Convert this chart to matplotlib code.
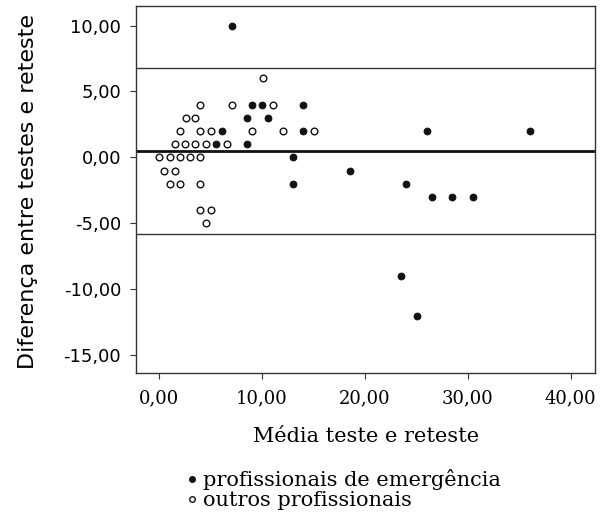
import numpy as np
import matplotlib.pyplot as plt
from matplotlib.lines import Line2D

# profissionais de emergencia (filled)
emerg_x = [7.1, 9.05, 10.05, 14.05, 8.6, 10.6, 6.1, 14.05, 5.6, 8.6,
           13.05, 18.6, 13.05, 26.05, 36.0, 24.05, 26.5, 28.5, 30.5,
           23.5, 25.1]
emerg_y = [10, 4, 4, 4, 3, 3, 2, 2, 1, 1,
           0, -1, -2, 2, 2, -2, -3, -3, -3,
           -9, -12]

# outros profissionais (open)
outros_x = [10.1, 4.05, 7.1, 11.1, 2.6, 3.55, 2.05, 4.05, 5.05, 9.1,
            12.1, 15.1, 1.55, 2.55, 3.55, 4.6, 6.6, 0.05, 1.05, 2.05,
            3.05, 4.05, 0.55, 1.6, 1.05, 2.05, 4.05, 4.05, 5.05, 4.6]
outros_y = [6, 4, 4, 4, 3, 3, 2, 2, 2, 2,
            2, 2, 1, 1, 1, 1, 1, 0, 0, 0,
            0, 0, -1, -1, -2, -2, -2, -4, -4, -5]

mean_diff = 0.49
upper_lim = 6.77
lower_lim = -5.81

xticks = [0, 10, 20, 30, 40]
yticks = [10, 5, 0, -5, -10, -15]


def fmt(v):
    return f"{v:.2f}".replace(".", ",")


fig = plt.figure(figsize=(6.13, 5.24), dpi=100)
ax = fig.add_axes([0.2225, 0.288, 0.7485, 0.7015])

ax.axhline(upper_lim, color="#333333", lw=1.0)
ax.axhline(lower_lim, color="#333333", lw=1.0)
ax.axhline(mean_diff, color="#111111", lw=2.0)

ax.plot(emerg_x, emerg_y, "o", ms=4.8, mfc="#111111", mec="#111111",
        mew=0.8, ls="none")
ax.plot(outros_x, outros_y, "o", ms=4.8, mfc="white", mec="#111111",
        mew=1.0, ls="none")

ax.set_xlim(-2.17, 42.37)
ax.set_ylim(-16.36, 11.52)
ax.set_xticks(xticks)
ax.set_xticklabels([fmt(v) for v in xticks], family="DejaVu Serif",
                   fontsize=13)
ax.set_yticks(yticks)
ax.set_yticklabels([fmt(v) for v in yticks], family="DejaVu Sans",
                   fontsize=13)
ax.tick_params(direction="out", length=4, width=0.8, color="#333333")
ax.tick_params(axis="y", pad=7)
ax.tick_params(axis="x", pad=8)
for s in ax.spines.values():
    s.set_color("#333333")
    s.set_linewidth(1.0)

ax.set_xlabel("Média teste e reteste", family="DejaVu Serif", fontsize=15,
              labelpad=14)
ax.set_ylabel("Diferença entre testes e reteste", family="DejaVu Sans",
              fontsize=16)
ax.yaxis.set_label_coords(-0.215, 0.493)

handles = [
    Line2D([], [], ls="none", marker="o", ms=4, mfc="#111111",
           mec="#111111"),
    Line2D([], [], ls="none", marker="o", ms=4, mfc="white", mec="#111111"),
]
fig.legend(handles, ["profissionais de emergência", "outros profissionais"],
           loc="upper left", bbox_to_anchor=(0.29, 0.125), frameon=False,
           handlelength=0.4, handletextpad=0.3, labelspacing=0.05,
           borderpad=0, prop={"family": "DejaVu Serif", "size": 15})

fig.savefig("out.png", dpi=100)
